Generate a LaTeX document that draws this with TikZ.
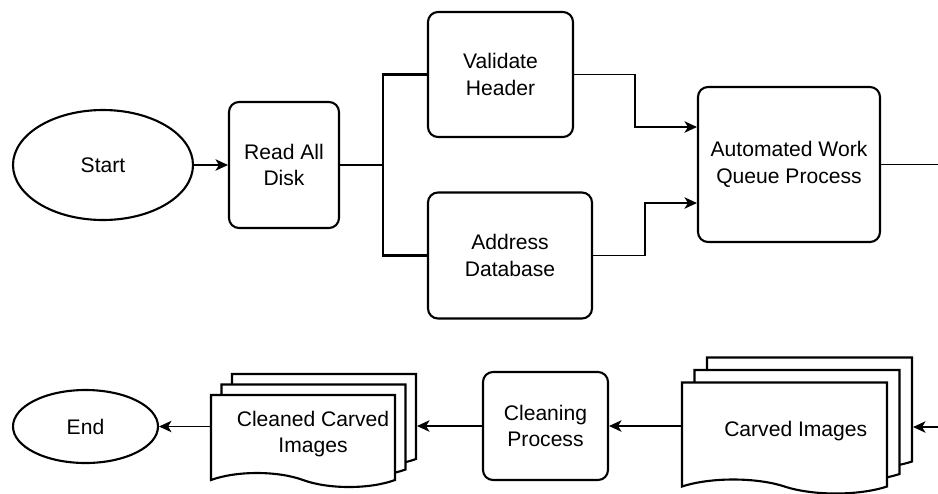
\documentclass[tikz,border=0pt]{standalone}
\usepackage{fontspec}
\setmainfont{Liberation Sans}
\usetikzlibrary{arrows.meta,positioning,shapes.geometric,shapes.symbols,shadows}
\tikzset{
  termbox/.style={ellipse, draw=black, fill=white, line width=1.2pt, inner sep=0pt,
    font=\fontsize{12}{15}\selectfont},
  procbox/.style={rectangle, draw=black, fill=white, rounded corners=0.2cm, line width=1.2pt,
    align=center, inner sep=0pt, font=\fontsize{12}{15}\selectfont},
  docstack/.style={tape, tape bend top=none, tape bend bottom=out and in, tape bend height=0.28cm,
    draw=black, fill=white, line width=1.2pt, align=center, inner sep=0pt,
    font=\fontsize{12}{15}\selectfont,
    copy shadow={shadow xshift=2*#1, shadow yshift=2*#1, fill=white, draw=black, line width=1.2pt},
    copy shadow={shadow xshift=#1, shadow yshift=#1, fill=white, draw=black, line width=1.2pt}},
  flow/.style={-{Stealth[length=2.5mm,width=2.3mm,inset=0.7mm]}, draw=black, line width=0.6pt},
  bus/.style={draw=black, line width=1.3pt},
}
\begin{document}
\begin{tikzpicture}
  \useasboundingbox (0,0) rectangle (18.76,-9.86);
  \clip (0,0) rectangle (18.76,-9.86);
  % top row
  \node[termbox, minimum width=3.6cm, minimum height=2.2cm] (start) at (2.06,-3.30) {Start};
  \node[procbox, minimum width=2.2cm, minimum height=2.52cm] (read) at (5.68,-3.30) {Read All\\Disk};
  \node[procbox, minimum width=2.9cm, minimum height=2.5cm] (validate) at (10.01,-1.49) {Validate\\Header};
  \node[procbox, minimum width=3.28cm, minimum height=2.52cm] (address) at (10.20,-5.11) {Address\\Database};
  \node[procbox, minimum width=3.64cm, minimum height=3.1cm] (awq) at (15.78,-3.29) {Automated Work\\Queue Process};
  % bottom row
  \node[docstack=0.25cm, minimum width=4.1cm, minimum height=2.22cm] (carved) at (15.69,-8.62)
    {\hspace*{0.45cm}Carved Images};
  \node[procbox, minimum width=2.5cm, minimum height=2.16cm] (cleaning) at (10.91,-8.52) {Cleaning\\Process};
  \node[docstack=0.21cm, minimum width=3.68cm, minimum height=1.84cm] (cleaned) at (6.06,-8.68)
    {\hspace*{0.4cm}Cleaned Carved\\\hspace*{0.4cm}Images};
  \node[termbox, minimum width=2.9cm, minimum height=1.46cm] (end) at (1.71,-8.53) {End};

  \coordinate (split) at (7.66,-3.30);
  \coordinate (carvedin) at ([xshift=0.5cm]carved.east |- 0,-8.54);
  \coordinate (cleanedin) at ([xshift=0.42cm]cleaned.east |- 0,-8.52);

  \draw[flow] (start) -- (read);
  \draw[bus] (read.east) -- (split);
  \draw[bus] (validate.west) -| (split) |- (address.west);
  \draw[flow] (validate.east) -- (12.70,-1.49) |- (awq.west |- 0,-2.54);
  \draw[flow] (address.east) -- (12.90,-5.11) |- (awq.west |- 0,-4.06);
  \draw[flow] (awq.east) -- (19.6,-3.29) |- (carvedin);
  \draw[flow] (carved.west |- cleaning) -- (cleaning.east);
  \draw[flow] (cleaning.west) -- (cleanedin);
  \draw[flow] (cleaned.west |- end) -- (end.east);
\end{tikzpicture}
\end{document}
